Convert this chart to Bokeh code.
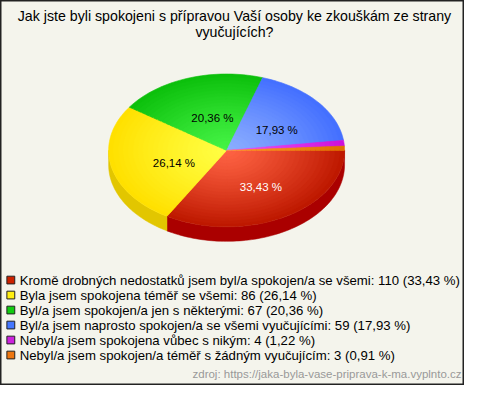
import numpy as np
from bokeh.plotting import figure
from bokeh.models import Range1d, ColumnDataSource
from bokeh.embed import file_html
from bokeh.resources import INLINE
from bokeh.core.properties import value

# ---------------- data ----------------
categories = [
    "Kromě drobných nedostatků jsem byl/a spokojen/a se všemi",
    "Byla jsem spokojena téměř se všemi",
    "Byl/a jsem spokojen/a jen s některými",
    "Byl/a jsem naprosto spokojen/a se všemi vyučujícími",
    "Nebyl/a jsem spokojena vůbec s nikým",
    "Nebyl/a jsem spokojen/a téměř s žádným vyučujícím",
]
counts = [110, 86, 67, 59, 4, 3]
pct_labels = ["33,43 %", "26,14 %", "20,36 %", "17,93 %", "1,22 %", "0,91 %"]
show_label = [True, True, True, True, False, False]
label_colors = ["#FFFFFF", "#000000", "#000000", "#000000", "#000000", "#000000"]
legend_colors = ["#CC2200", "#FFEE11", "#11CC11", "#4477FF", "#CC22DD", "#EE7711"]
inner_colors = ["#FF6444", "#FFFF44", "#46F446", "#8CAEFF", "#EE55F4", "#FF9A2A"]
outer_colors = ["#BE1800", "#FFE000", "#0CC00C", "#4470FF", "#CC11DD", "#E07000"]
side_colors = ["#AA0000", "#E2C600", "#0A9A0A", "#2A50D0", "#9A10A8", "#B85800"]
title_lines = ["Jak jste byli spokojeni s přípravou Vaší osoby ke zkouškám ze strany",
               "vyučujících?"]
source_text = "zdroj: https://jaka-byla-vase-priprava-k-ma.vyplnto.cz"

# ---------------- layout (reference pixel space) ----------------
X0, X1, Y0, Y1 = 0, 472, 0, 398
FIG_W, FIG_H = 464, 385
cx, cy = 230.0, 155.0
rx, ry = 120.0, 79.0
depth = 15.0
label_frac = 0.5
label_dx, label_dy = 5.0, 4.0
FONT = value("Liberation Sans")
BG = "#F4F4EC"


def hex2rgb(h):
    h = h.lstrip("#")
    return np.array([int(h[i:i + 2], 16) for i in (0, 2, 4)], dtype=float)


def lerp(c1, c2, f):
    a, b = hex2rgb(c1), hex2rgb(c2)
    c = a + (b - a) * f
    return "#%02x%02x%02x" % tuple(int(round(v)) for v in c)


p = figure(width=FIG_W, height=FIG_H, output_backend="svg", toolbar_location=None,
           x_range=Range1d(X0, X1), y_range=Range1d(Y1, Y0), min_border=0)
p.axis.visible = False
p.grid.visible = False
p.background_fill_color = BG
p.border_fill_color = BG
p.outline_line_color = "#222222"
p.outline_line_width = 2

total = float(sum(counts))
fracs = [c / total for c in counts]
bounds = np.concatenate([[0.0], np.cumsum(fracs) * 2 * np.pi])

# ---- side walls (front half only) ----
sx, sy, sc = [], [], []
for i in range(len(counts)):
    a, b = max(bounds[i], 0.0), min(bounds[i + 1], np.pi)
    if a < b:
        ts = np.linspace(a, b, 80)
        xs = cx + rx * np.cos(ts)
        yt = cy + ry * np.sin(ts)
        sx.append(list(xs) + list(xs[::-1]))
        sy.append(list(yt) + list((yt + depth)[::-1]))
        sc.append(side_colors[i])
p.patches(xs="xs", ys="ys", fill_color="c", line_color="c", line_width=0.5,
          source=ColumnDataSource(dict(xs=sx, ys=sy, c=sc)))

# ---- top surface with radial gradient ----
K = 24
tx, ty, tc = [], [], []
for k in range(K, 0, -1):
    r = k / K
    for i in range(len(counts)):
        ts = np.linspace(bounds[i], bounds[i + 1], max(6, int(200 * fracs[i])))
        xs = [cx] + list(cx + r * rx * np.cos(ts))
        ys = [cy] + list(cy + r * ry * np.sin(ts))
        tx.append(xs)
        ty.append(ys)
        tc.append(lerp(inner_colors[i], outer_colors[i], r ** 1.2))
p.patches(xs="xs", ys="ys", fill_color="c", line_color="c", line_width=0.6,
          source=ColumnDataSource(dict(xs=tx, ys=ty, c=tc)))

# ---- percentage labels ----
lx, ly, lt, lc = [], [], [], []
for i in range(len(counts)):
    if show_label[i]:
        m = 0.5 * (bounds[i] + bounds[i + 1])
        lx.append(cx + label_dx + label_frac * rx * np.cos(m))
        ly.append(cy + label_dy + label_frac * ry * np.sin(m))
        lt.append(pct_labels[i])
        lc.append(label_colors[i])
p.text(x="x", y="y", text="t", text_color="c", source=ColumnDataSource(dict(x=lx, y=ly, t=lt, c=lc)),
       text_font=FONT, text_font_size="11.5px", text_align="center", text_baseline="middle")

# ---- title ----
p.text(x=[238] * 2, y=[16, 33], text=title_lines, text_font=FONT, text_font_size="14.2px",
       text_color="#000000", text_align="center", text_baseline="middle")

# ---- legend ----
leg_y0, leg_dy = 289.0, 15.5
leg_y = [leg_y0 + i * leg_dy for i in range(len(categories))]
leg_txt = [f"{categories[i]}: {counts[i]} ({pct_labels[i]})" for i in range(len(categories))]
p.rect(x=[10.5] * len(categories), y=leg_y, width=8, height=8, fill_color=legend_colors,
       line_color="#222222", line_width=1)
p.text(x=[19.5] * len(categories), y=leg_y, text=leg_txt, text_font=FONT, text_font_size="13.2px",
       text_color="#000000", text_align="left", text_baseline="middle")

# ---- source ----
p.text(x=[469], y=[386], text=[source_text], text_font=FONT, text_font_size="11.5px",
       text_color="#999999", text_align="right", text_baseline="middle")

open("out.html", "w").write(file_html(p, INLINE))
